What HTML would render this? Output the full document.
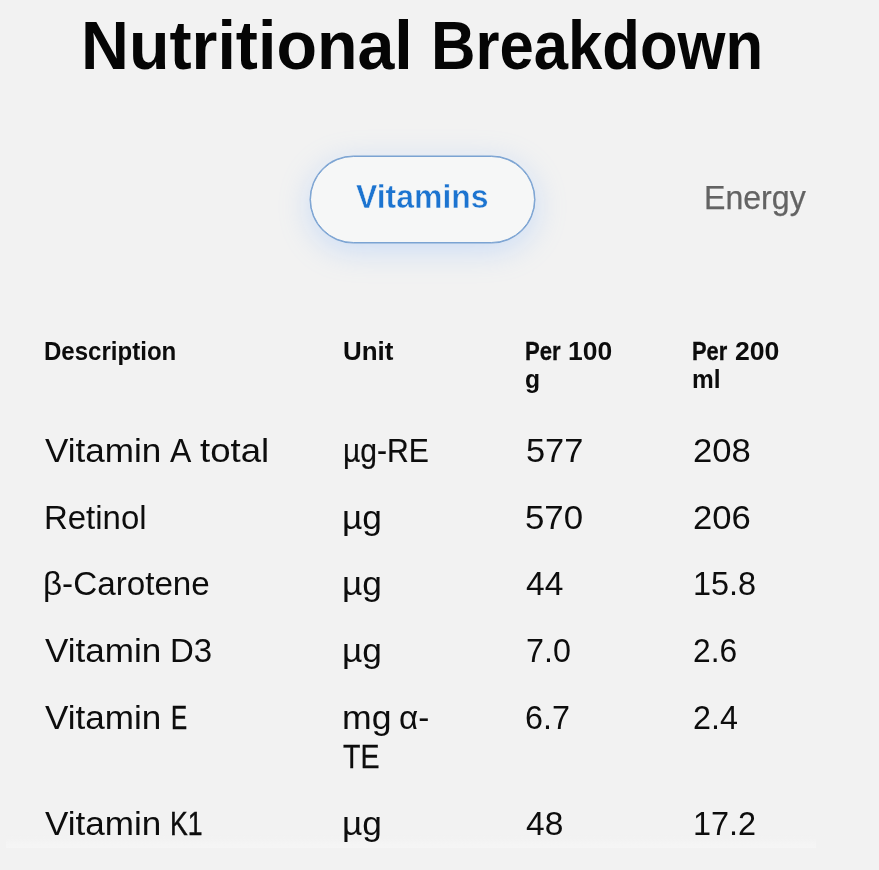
<!DOCTYPE html>
<html lang="en">
<head>
<meta charset="utf-8">
<title>Nutritional Breakdown</title>
<style>
html,body{margin:0;padding:0;}
body{width:879px;height:870px;overflow:hidden;background:#f2f2f2;font-family:"Liberation Sans","DejaVu Sans",sans-serif;color:#111;position:relative;}
.c{position:absolute;left:0;top:0;margin:0;font-weight:normal;line-height:1;}
.t{position:absolute;white-space:nowrap;transform-origin:0 0;line-height:1;}
.h{font-size:68px;font-weight:bold;color:#050505;}
.pill{position:absolute;box-sizing:border-box;left:309.5px;top:155.5px;width:225px;height:87px;border:1px solid #7ba3d2;border-radius:44px;background:#f6f7f7;box-shadow:0 0 0 .5px #7ba3d2,0 7px 32px rgba(120,175,255,.33);}
.band{position:absolute;left:6px;top:835px;width:810px;height:13px;background:linear-gradient(rgba(246,246,246,0) 0,#f5f5f5 100%);}
.vit{font-size:33.5px;color:#1c74d0;font-weight:bold;-webkit-text-stroke:.45px #f6f7f7;}
.en{font-size:34px;color:#636363;-webkit-text-stroke:.25px #636363;}
.th{font-size:25.5px;font-weight:bold;color:#0c0c0c;}
.td{font-size:34px;color:#0d0d0d;}
main{filter:blur(.3px);}

</style>
</head>
<body>
<main>
<h1 class="c h"><span class="t" style="left:80.8px;top:10.7px;transform:scaleX(0.976);">Nutritional</span> <span class="t" style="left:430.6px;top:10.7px;transform:scaleX(0.906);">Breakdown</span></h1>
<nav class="tabs">
<div class="pill"></div>
<div class="c vit tab" role="tab"><span class="t" style="left:356.4px;top:180.0px;transform:scaleX(0.954);">Vitamins</span></div>
<div class="c en tab" role="tab"><span class="t" style="left:703.7px;top:179.8px;transform:scaleX(0.944);">Energy</span></div>
</nav>
<div class="band"></div>
<div class="table" role="table">
<div class="row" role="row">
<div class="c th" role="columnheader"><span class="t" style="left:43.6px;top:338.8px;transform:scaleX(0.943);">Description</span></div>
<div class="c th" role="columnheader"><span class="t" style="left:342.8px;top:338.8px;transform:scaleX(1.017);">Unit</span></div>
<div class="c th" role="columnheader"><span class="t" style="left:524.7px;top:338.8px;transform:scaleX(0.867);-webkit-text-stroke:0.29px currentColor;">Per</span> <span class="t" style="left:568.1px;top:338.8px;transform:scaleX(1.037);">100</span> <span class="t" style="left:524.6px;top:367.0px;transform:scaleX(0.969);">g</span></div>
<div class="c th" role="columnheader"><span class="t" style="left:692.1px;top:338.8px;transform:scaleX(0.857);-webkit-text-stroke:0.31px currentColor;">Per</span> <span class="t" style="left:734.6px;top:338.8px;transform:scaleX(1.044);">200</span> <span class="t" style="left:692.0px;top:367.0px;transform:scaleX(0.959);">ml</span></div>
</div>
<div class="row" role="row">
<div class="c td" role="cell"><span class="t" style="left:44.8px;top:433.0px;transform:scaleX(1.031);">Vitamin</span> <span class="t" style="left:169.9px;top:433.0px;transform:scaleX(0.941);">A</span> <span class="t" style="left:199.8px;top:433.0px;transform:scaleX(1.077);">total</span></div>
<div class="c td" role="cell"><span class="t" style="left:343.3px;top:433.0px;transform:scaleX(0.885);-webkit-text-stroke:0.20px currentColor;">µg-RE</span></div>
<div class="c td" role="cell"><span class="t" style="left:525.6px;top:433.0px;transform:scaleX(1.011);">577</span></div>
<div class="c td" role="cell"><span class="t" style="left:692.5px;top:433.0px;transform:scaleX(1.019);">208</span></div>
</div>
<div class="row" role="row">
<div class="c td" role="cell"><span class="t" style="left:43.6px;top:499.6px;transform:scaleX(0.969);">Retinol</span></div>
<div class="c td" role="cell"><span class="t" style="left:342.4px;top:499.6px;transform:scaleX(1.037);">µg</span></div>
<div class="c td" role="cell"><span class="t" style="left:524.6px;top:499.6px;transform:scaleX(1.024);">570</span></div>
<div class="c td" role="cell"><span class="t" style="left:692.5px;top:499.6px;transform:scaleX(1.019);">206</span></div>
</div>
<div class="row" role="row">
<div class="c td" role="cell"><span class="t" style="left:43.0px;top:566.2px;transform:scaleX(0.977);">β-Carotene</span></div>
<div class="c td" role="cell"><span class="t" style="left:342.4px;top:566.2px;transform:scaleX(1.037);">µg</span></div>
<div class="c td" role="cell"><span class="t" style="left:525.6px;top:566.2px;transform:scaleX(0.986);">44</span></div>
<div class="c td" role="cell"><span class="t" style="left:693.3px;top:566.2px;transform:scaleX(0.954);">15.8</span></div>
</div>
<div class="row" role="row">
<div class="c td" role="cell"><span class="t" style="left:44.8px;top:633.0px;transform:scaleX(1.031);">Vitamin</span> <span class="t" style="left:170.0px;top:633.0px;transform:scaleX(0.970);">D3</span></div>
<div class="c td" role="cell"><span class="t" style="left:342.4px;top:633.0px;transform:scaleX(1.037);">µg</span></div>
<div class="c td" role="cell"><span class="t" style="left:525.7px;top:633.0px;transform:scaleX(0.949);">7.0</span></div>
<div class="c td" role="cell"><span class="t" style="left:692.6px;top:633.0px;transform:scaleX(0.933);">2.6</span></div>
</div>
<div class="row" role="row">
<div class="c td" role="cell"><span class="t" style="left:44.8px;top:700.0px;transform:scaleX(1.031);">Vitamin</span> <span class="t" style="left:170.5px;top:700.0px;transform:scaleX(0.710);-webkit-text-stroke:0.62px currentColor;">E</span></div>
<div class="c td" role="cell"><span class="t" style="left:341.7px;top:700.0px;transform:scaleX(1.047);">mg</span> <span class="t" style="left:399.1px;top:700.0px;transform:scaleX(0.976);">α-</span> <span class="t" style="left:343.3px;top:739.4px;transform:scaleX(0.840);-webkit-text-stroke:0.29px currentColor;">TE</span></div>
<div class="c td" role="cell"><span class="t" style="left:524.7px;top:700.0px;transform:scaleX(0.949);">6.7</span></div>
<div class="c td" role="cell"><span class="t" style="left:692.6px;top:700.0px;transform:scaleX(0.949);">2.4</span></div>
</div>
<div class="row" role="row">
<div class="c td" role="cell"><span class="t" style="left:44.8px;top:806.2px;transform:scaleX(1.031);">Vitamin</span> <span class="t" style="left:170.3px;top:806.2px;transform:scaleX(0.782);-webkit-text-stroke:0.43px currentColor;">K1</span></div>
<div class="c td" role="cell"><span class="t" style="left:342.4px;top:806.2px;transform:scaleX(1.037);">µg</span></div>
<div class="c td" role="cell"><span class="t" style="left:525.6px;top:806.2px;transform:scaleX(0.986);">48</span></div>
<div class="c td" role="cell"><span class="t" style="left:693.3px;top:806.2px;transform:scaleX(0.954);">17.2</span></div>
</div>
</div>
</main>
</body>
</html>
